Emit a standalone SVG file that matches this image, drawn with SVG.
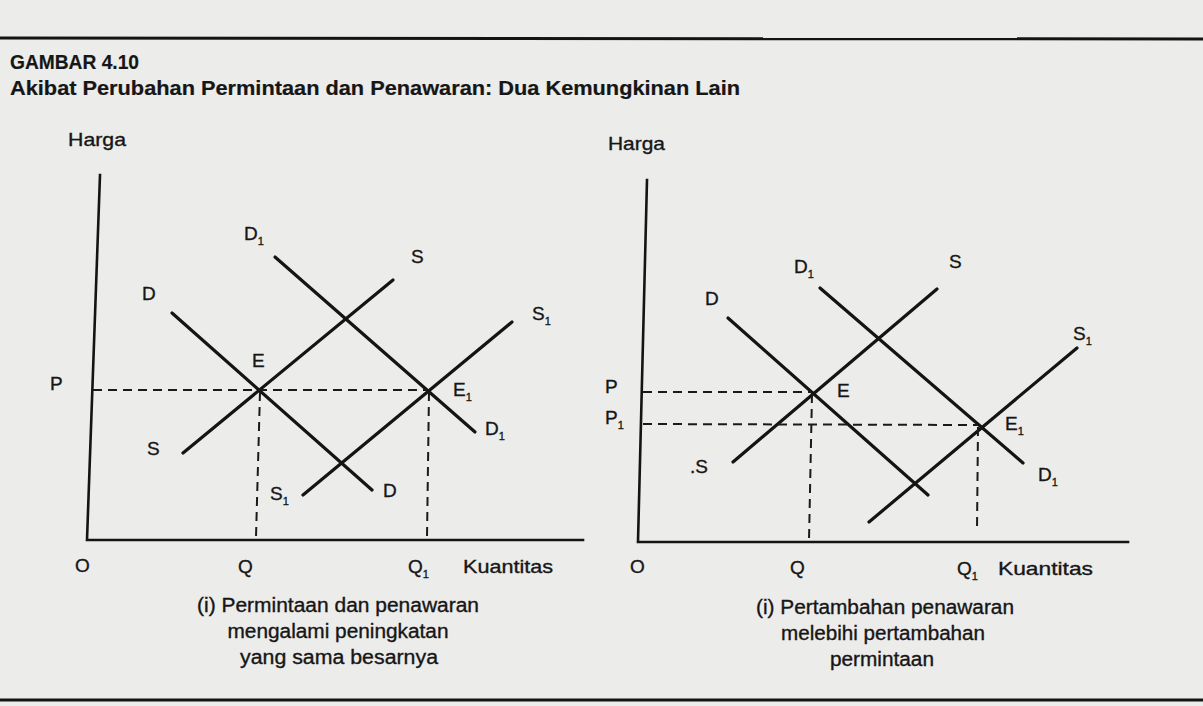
<svg xmlns="http://www.w3.org/2000/svg" width="1203" height="706" viewBox="0 0 1203 706">
<style>
text{font-family:"Liberation Sans",Arial,sans-serif;fill:#161616;font-size:19px;stroke:#161616;stroke-width:0.35}
.t{font-weight:bold;font-size:21px;stroke-width:0.2}
.cap{font-size:20px}
.sub{font-size:11px}
.curve{stroke:#141414;stroke-width:3.2;stroke-linecap:round;fill:none}
.axis{stroke:#141414;stroke-width:2.6;fill:none;stroke-linecap:square}
.dash{stroke:#1a1a1a;stroke-width:2;stroke-dasharray:9 6;fill:none}
.rule{stroke:#141414;stroke-width:3;fill:none}
</style>
<rect width="1203" height="706" fill="#ececea"/>
<g id="header">
<line class="rule" x1="0" y1="38" x2="1203" y2="39"/>
<text class="t" x="10" y="69" textLength="129" lengthAdjust="spacingAndGlyphs">GAMBAR 4.10</text>
<text class="t" x="10" y="95" textLength="730" lengthAdjust="spacingAndGlyphs">Akibat Perubahan Permintaan dan Penawaran: Dua Kemungkinan Lain</text>
<line class="rule" x1="0" y1="700" x2="1203" y2="700"/>
</g>
<g id="chart-left">
<g id="left-axes">
<polyline class="axis" points="100,175 87,540 583,540"/>
<text x="68" y="146" textLength="58" lengthAdjust="spacingAndGlyphs">Harga</text>
<text x="75" y="572">O</text>
<text x="238" y="573">Q</text>
<text x="408" y="573">Q<tspan class="sub" dy="5">1</tspan></text>
<text x="463" y="573" textLength="90" lengthAdjust="spacingAndGlyphs">Kuantitas</text>
<text x="50" y="390">P</text>
</g>
<g id="left-connectors">
<line class="curve" x1="172" y1="313" x2="372" y2="490"/>
<line class="curve" x1="183" y1="453" x2="393" y2="280"/>
<line class="curve" x1="275" y1="257" x2="475" y2="432"/>
<line class="curve" x1="303" y1="495" x2="512" y2="322"/>
<line class="dash" x1="93" y1="390" x2="429" y2="390"/>
<line class="dash" x1="260" y1="392" x2="256" y2="537"/>
<line class="dash" x1="429" y1="392" x2="427" y2="537"/>
</g>
<g id="left-labels">
<text x="244" y="240">D<tspan class="sub" dy="5">1</tspan></text>
<text x="142" y="300">D</text>
<text x="252" y="367">E</text>
<text x="147" y="455">S</text>
<text x="270" y="500">S<tspan class="sub" dy="5">1</tspan></text>
<text x="383" y="497">D</text>
<text x="485" y="435">D<tspan class="sub" dy="5">1</tspan></text>
<text x="453" y="396">E<tspan class="sub" dy="5">1</tspan></text>
<text x="411" y="263">S</text>
<text x="532" y="320">S<tspan class="sub" dy="5">1</tspan></text>
</g>
<g id="left-caption">
<text class="cap" x="338" y="612" text-anchor="middle" textLength="282" lengthAdjust="spacingAndGlyphs">(i) Permintaan dan penawaran</text>
<text class="cap" x="338" y="638" text-anchor="middle" textLength="221" lengthAdjust="spacingAndGlyphs">mengalami peningkatan</text>
<text class="cap" x="339" y="664" text-anchor="middle" textLength="198" lengthAdjust="spacingAndGlyphs">yang sama besarnya</text>
</g>
</g>
<g id="chart-right">
<g id="right-axes">
<polyline class="axis" points="647,180 638,542 1128,542"/>
<text x="608" y="150" textLength="57" lengthAdjust="spacingAndGlyphs">Harga</text>
<text x="630" y="573">O</text>
<text x="790" y="574">Q</text>
<text x="957" y="575">Q<tspan class="sub" dy="5">1</tspan></text>
<text x="998" y="575" textLength="95" lengthAdjust="spacingAndGlyphs">Kuantitas</text>
<text x="605" y="393">P</text>
<text x="605" y="424">P<tspan class="sub" dy="5">1</tspan></text>
</g>
<g id="right-connectors">
<line class="curve" x1="728" y1="318" x2="928" y2="495"/>
<line class="curve" x1="733" y1="462" x2="937" y2="289"/>
<line class="curve" x1="820" y1="288" x2="1023" y2="463"/>
<line class="curve" x1="869" y1="522" x2="1077" y2="348"/>
<line class="dash" x1="643" y1="392" x2="812" y2="392"/>
<line class="dash" x1="643" y1="424" x2="978" y2="425"/>
<line class="dash" x1="812" y1="394" x2="809" y2="540"/>
<line class="dash" x1="978" y1="427" x2="977" y2="530"/>
</g>
<g id="right-labels">
<text x="794" y="273">D<tspan class="sub" dy="5">1</tspan></text>
<text x="949" y="268">S</text>
<text x="705" y="305">D</text>
<text x="1073" y="340">S<tspan class="sub" dy="5">1</tspan></text>
<text x="837" y="397">E</text>
<text x="1005" y="430">E<tspan class="sub" dy="5">1</tspan></text>
<text x="690" y="473">.S</text>
<text x="1038" y="481">D<tspan class="sub" dy="5">1</tspan></text>
</g>
<g id="right-caption">
<text class="cap" x="885" y="614" text-anchor="middle" textLength="258" lengthAdjust="spacingAndGlyphs">(i) Pertambahan penawaran</text>
<text class="cap" x="883" y="640" text-anchor="middle" textLength="204" lengthAdjust="spacingAndGlyphs">melebihi pertambahan</text>
<text class="cap" x="882" y="666" text-anchor="middle" textLength="104" lengthAdjust="spacingAndGlyphs">permintaan</text>
</g>
</g>
</svg>
